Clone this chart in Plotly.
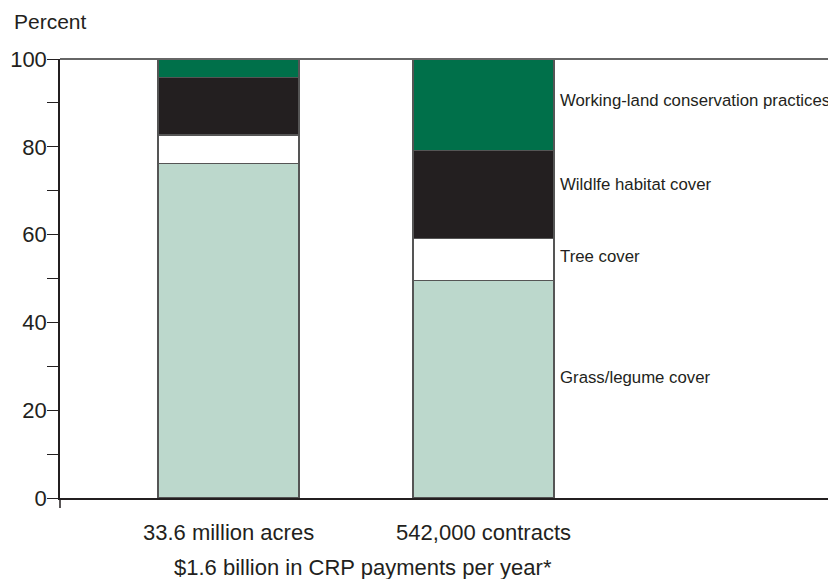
import plotly.graph_objects as go

categories = ["33.6 million acres", "542,000 contracts"]
series_names = ["Grass/legume cover", "Tree cover", "Wildlfe habitat cover",
                "Working-land conservation practices"]
grass = [76.2, 49.5]
tree = [6.5, 9.7]
wildlife = [13.1, 19.9]
working = [4.2, 20.9]
y_ticks = [0, 20, 40, 60, 80, 100]
footnote = "$1.6 billion in CRP payments per year*"

values = [grass, tree, wildlife, working]
colors = ["#bcd8cc", "#ffffff", "#231f20", "#00704a"]
label_shift = [12, 3, 10, 4]

FONT = "Liberation Sans, Arial, Helvetica, sans-serif"
TXT = "#231f20"

fig = go.Figure()
for name, vals, col in zip(series_names, values, colors):
    fig.add_trace(go.Bar(
        x=categories, y=vals, name=name,
        marker=dict(color=col, line=dict(color="#555555", width=1.2)),
        width=0.553, showlegend=False, hoverinfo="skip",
    ))

# right-side labels next to second bar
cum = 0
for name, vals, sh in zip(series_names, values, label_shift):
    mid = cum + vals[1] / 2
    cum += vals[1]
    fig.add_annotation(x=1, y=mid, xref="x", yref="y", text=name,
                       showarrow=False, xanchor="left", yanchor="middle",
                       xshift=0.553 * 255 / 2 + 4, yshift=sh,
                       font=dict(family=FONT, size=16.8, color=TXT))

fig.add_annotation(x=0.5, y=0, xref="x", yref="paper", text=footnote,
                   showarrow=False, xanchor="center", yanchor="middle",
                   xshift=7, yshift=-69,
                   font=dict(family=FONT, size=22, color=TXT))
fig.add_annotation(x=0, y=1, xref="paper", yref="paper", text="Percent",
                   showarrow=False, xanchor="left", yanchor="middle",
                   xshift=-48, yshift=38,
                   font=dict(family=FONT, size=21, color=TXT))

# top frame line and little downward extension of the y axis
fig.add_shape(type="line", xref="paper", yref="paper", x0=0, x1=1, y0=1, y1=1,
              line=dict(color="#666666", width=2))
fig.add_shape(type="line", xref="paper", yref="paper", x0=0, x1=0, y0=0, y1=-10 / 439,
              line=dict(color=TXT, width=1.5))

fig.update_layout(
    barmode="stack",
    width=828, height=571,
    margin=dict(l=52, r=0, t=51, b=81),
    paper_bgcolor="white", plot_bgcolor="white",
    font=dict(family=FONT, size=22, color=TXT),
    xaxis=dict(type="category", range=[-0.661, 2.382], showgrid=False,
               showline=True, linecolor=TXT, linewidth=2, ticks="",
               ticklabelstandoff=14, tickfont=dict(size=22, color=TXT),
               zeroline=False, fixedrange=True),
    yaxis=dict(range=[0, 100], tickvals=y_ticks, showgrid=False, zeroline=False,
               showline=True, linecolor=TXT, linewidth=1.5,
               ticks="outside", ticklen=11, tickwidth=1.3, tickcolor=TXT,
               ticklabelstandoff=-4,
               minor=dict(dtick=10, ticks="outside", ticklen=11, tickwidth=1.3,
                          tickcolor=TXT),
               tickfont=dict(size=22, color=TXT), fixedrange=True),
)

fig.write_html("out.html")
